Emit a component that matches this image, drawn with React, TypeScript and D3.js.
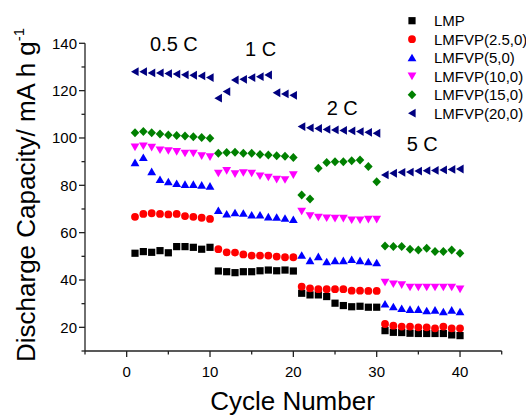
import React from "react";
import * as d3 from "d3";

const cycles = [1,2,3,4,5,6,7,8,9,10,11,12,13,14,15,16,17,18,19,20,21,22,23,24,25,26,27,28,29,30,31,32,33,34,35,36,37,38,39,40];

const lmp = [51.3,52.0,51.7,52.4,51.5,54.1,54.1,53.8,53.0,53.8,43.8,43.5,43.1,43.5,43.5,43.9,44.2,43.9,44.2,43.8,34.4,33.7,33.7,33.0,30.2,29.2,28.7,28.9,28.5,28.5,18.6,17.9,17.8,17.5,17.4,17.4,17.4,17.4,16.8,16.5];
const v25 = [66.7,67.9,68.2,67.9,67.7,67.9,67.0,66.7,66.3,65.8,53.0,51.7,51.6,50.8,50.3,50.3,50.3,49.9,49.6,49.6,37.2,36.5,36.1,36.1,36.1,36.1,35.5,35.5,35.4,35.4,21.4,20.7,20.3,20.3,20.0,20.0,19.6,20.3,19.6,19.6];
const v5 = [89.6,91.8,85.8,82.5,81.5,80.8,80.4,80.4,80.1,79.7,69.4,67.9,68.4,68.2,67.5,67.5,66.7,66.5,66.1,65.6,50.5,48.2,49.9,47.7,48.2,48.2,48.7,48.2,47.7,47.3,29.9,28.7,28.0,27.6,27.6,27.0,27.3,26.6,27.3,26.6];
const v10 = [96.1,96.6,96.0,94.9,94.6,94.2,93.5,93.5,92.4,92.0,85.1,86.2,84.8,85.3,85.1,83.9,83.4,82.5,82.3,84.4,69.0,67.1,66.5,66.2,66.0,66.0,65.3,65.3,65.6,65.6,39.0,38.3,37.9,36.9,36.9,36.9,36.9,36.9,36.9,36.1];
const v15 = [102.2,102.7,102.2,101.7,101.3,101.0,100.8,100.5,100.2,99.9,93.5,93.9,94.0,93.5,93.5,93.0,92.8,92.5,92.3,91.8,75.9,74.2,87.2,89.6,90.0,90.0,90.4,90.7,87.9,81.5,54.4,54.1,54.1,53.0,52.7,53.4,52.0,52.0,52.7,51.3];
const v20 = [128.0,128.0,127.5,127.5,127.2,127.0,126.7,126.5,126.2,125.5,116.8,119.6,124.5,124.8,125.5,125.9,126.6,119.1,118.6,118.0,104.8,104.3,104.0,103.6,103.4,103.2,103.0,102.7,102.4,102.0,84.4,85.1,85.5,85.6,86.0,86.2,86.3,86.5,86.7,86.9];

const seriesNames = ["LMP","LMFVP(2.5,0)","LMFVP(5,0)","LMFVP(10,0)","LMFVP(15,0)","LMFVP(20,0)"];
const seriesValues = [lmp, v25, v5, v10, v15, v20];
const seriesColors = ["#000000","#ff0000","#0000ff","#ff00ff","#008000","#000080"];
const seriesShapes = ["square","circle","up","down","diamond","left"];

const xTicks = [0,10,20,30,40];
const xMinor = [-5,5,15,25,35,45];
const yTicks = [20,40,60,80,100,120,140];
const yMinor = [10,30,50,70,90,110,130];

const rateLabels = ["0.5 C","1 C","2 C","5 C"];
const rateX = [2.8,14.2,24.0,33.6];
const rateY = [136.7,134.6,109.7,94.5];

const FONT = "'Liberation Sans', Arial, sans-serif";

function shapePath(shape: string): string {
  switch (shape) {
    case "square": return "M-3.6,-3.6h7.2v7.2h-7.2Z";
    case "circle": return "M3.9,0A3.9,3.9 0 1,1 -3.9,0A3.9,3.9 0 1,1 3.9,0Z";
    case "up": return "M0,-4L4.4,3.6L-4.4,3.6Z";
    case "down": return "M0,4L4.4,-3.6L-4.4,-3.6Z";
    case "diamond": return "M0,-4.5L4.3,0L0,4.5L-4.3,0Z";
    case "left": return "M-4,0L3.6,-4.4L3.6,4.4Z";
  }
  return "";
}

export default function App() {
  const W = 526, H = 416;
  const x = d3.scaleLinear().domain([-5, 45]).range([85, 501.7]);
  const y = d3.scaleLinear().domain([10, 140]).range([351, 43.3]);
  const axisColor = "#222";
  return (
    <svg width={W} height={H} style={{ position: "absolute", left: 0, top: 0, background: "#fff" }} fontFamily={FONT}>
      {/* axes */}
      <line x1={x(-5)} x2={x(45)} y1={y(10)} y2={y(10)} stroke={axisColor} strokeWidth={1.3} />
      <line x1={x(-5)} x2={x(-5)} y1={y(10)} y2={y(140)} stroke={axisColor} strokeWidth={1.3} />
      {xTicks.map((t) => (
        <g key={"xt" + t}>
          <line x1={x(t)} x2={x(t)} y1={y(10)} y2={y(10) + 6} stroke={axisColor} strokeWidth={1.3} />
          <text x={x(t)} y={377} textAnchor="middle" fontSize={15} fill="#000">{t}</text>
        </g>
      ))}
      {xMinor.map((t) => (
        <line key={"xm" + t} x1={x(t)} x2={x(t)} y1={y(10)} y2={y(10) + 3.5} stroke={axisColor} strokeWidth={1.3} />
      ))}
      {yTicks.map((t) => (
        <g key={"yt" + t}>
          <line x1={x(-5) - 6} x2={x(-5)} y1={y(t)} y2={y(t)} stroke={axisColor} strokeWidth={1.3} />
          <text x={77} y={y(t)} dy="0.36em" textAnchor="end" fontSize={15} fill="#000">{t}</text>
        </g>
      ))}
      {yMinor.map((t) => (
        <line key={"ym" + t} x1={x(-5) - 3.5} x2={x(-5)} y1={y(t)} y2={y(t)} stroke={axisColor} strokeWidth={1.3} />
      ))}
      {/* axis titles */}
      <text x={292.5} y={410} textAnchor="middle" fontSize={26} fill="#000">Cycle Number</text>
      <text transform="rotate(-90)" x={-362} y={35} textAnchor="start" fontSize={26} fill="#000">
        Discharge Capacity/ mA h g<tspan fontSize={15} dy={-11}>-1</tspan>
      </text>
      {/* rate labels */}
      {rateLabels.map((l, i) => (
        <text key={l} x={x(rateX[i])} y={y(rateY[i])} fontSize={20} fill="#000">{l}</text>
      ))}
      {/* data */}
      {seriesValues.map((vals, si) => (
        <g key={"s" + si} fill={seriesColors[si]}>
          {vals.map((v, i) => (
            <path key={i} d={shapePath(seriesShapes[si])} transform={`translate(${x(cycles[i])},${y(v)})`} />
          ))}
        </g>
      ))}
      {/* legend */}
      {seriesNames.map((n, i) => (
        <g key={"lg" + i} transform={`translate(0,${20.7 + i * 18.5})`}>
          <path d={shapePath(seriesShapes[i])} transform="translate(412,0)" fill={seriesColors[i]} />
          <text x={434} y={0} dy="0.36em" fontSize={15} fill="#000">{n}</text>
        </g>
      ))}
    </svg>
  );
}
